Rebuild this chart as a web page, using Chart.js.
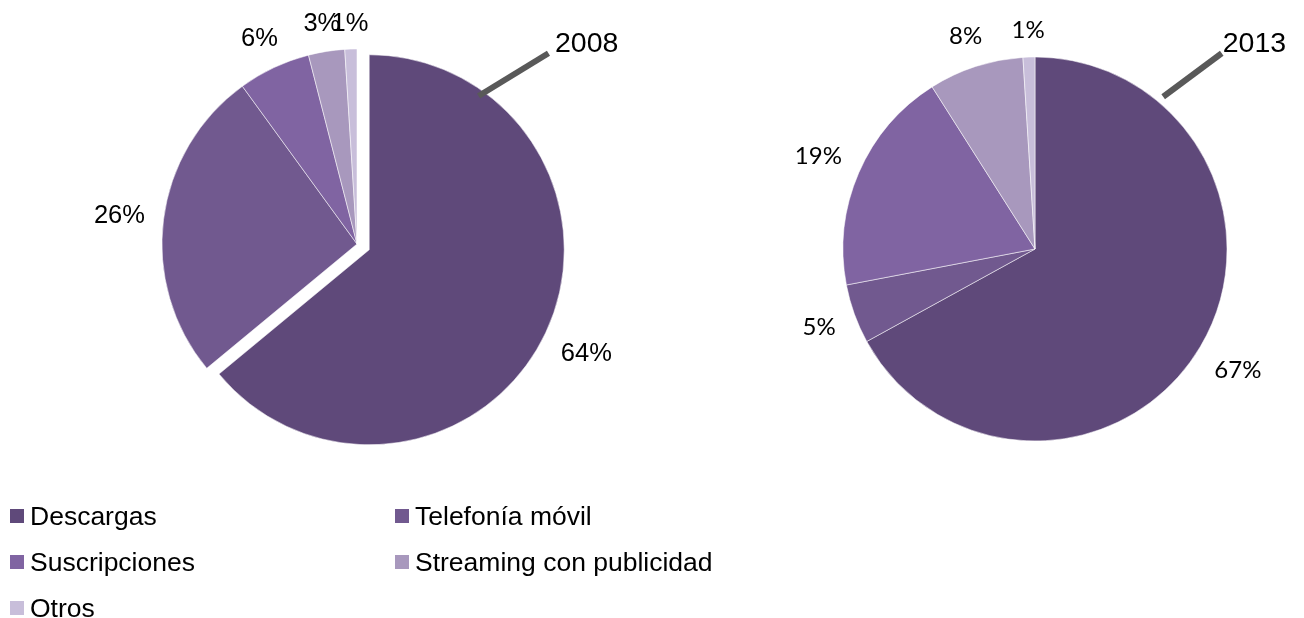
<!DOCTYPE html>
<html><head><meta charset="utf-8">
<script src="https://cdn.jsdelivr.net/npm/chart.js@4.4.1/dist/chart.umd.min.js"></script>
<style>
html,body{margin:0;padding:0;background:#fff;width:1304px;height:618px;overflow:hidden;position:relative;}
#c1{position:absolute;left:0;top:0;}
#c2{position:absolute;left:770px;top:0;}
#legend{position:absolute;left:10px;top:493px;display:grid;grid-template-columns:385px 385px;grid-auto-rows:46px;font-family:"Liberation Sans",Arial,sans-serif;font-size:26.5px;color:#000;}
.item{display:flex;align-items:center;white-space:nowrap;}
.sw{width:14px;height:14px;margin-right:6px;flex:none;}
</style></head>
<body>
<canvas id="c1" width="714" height="488"></canvas>
<canvas id="c2" width="534" height="498"></canvas>
<div id="legend"></div>
<script>
const categories = ['Descargas', 'Telefonía móvil', 'Suscripciones', 'Streaming con publicidad', 'Otros'];
const values2008 = [64, 26, 6, 3, 1];
const values2013 = [67, 5, 19, 8, 1];
const years = ['2008', '2013'];
const colors = ['#5F497A', '#71598F', '#8064A2', '#A898BD', '#C8BEDA'];

const pieDecor = {
  id: 'pieDecor',
  beforeDatasetDraw(chart, args, opts) {
    const ctx = chart.ctx;
    const explode = opts.explode || [];
    args.meta.data.forEach((arc, i) => {
      const d = explode[i] || 0;
      ctx.save();
      if (d) {
        const mid = (arc.startAngle + arc.endAngle) / 2;
        ctx.translate(Math.cos(mid) * d, Math.sin(mid) * d);
      }
      arc.draw(ctx, chart.chartArea);
      ctx.restore();
    });
    return false;
  },
  afterDatasetsDraw(chart, args, opts) {
    const ctx = chart.ctx;
    const meta = chart.getDatasetMeta(0);
    const ds = chart.data.datasets[0];
    const explode = opts.explode || [];
    ctx.save();
    ctx.font = opts.labelFont;
    ctx.fillStyle = '#000';
    ctx.textAlign = 'center';
    ctx.textBaseline = 'alphabetic';
    const capH = opts.labelCap;
    meta.data.forEach((arc, i) => {
      const mid = (arc.startAngle + arc.endAngle) / 2;
      const ex = explode[i] || 0;
      const c = Math.cos(mid), s = Math.sin(mid);
      const cx = arc.x + c * ex, cy = arc.y + s * ex;
      const txt = ds.data[i] + '%';
      const w = ctx.measureText(txt).width;
      const ext = Math.abs(c) * w / 2 + Math.abs(s) * capH / 2;
      const r = arc.outerRadius + opts.pad + ext;
      ctx.fillText(txt, cx + c * r, cy + s * r + capH / 2);
    });
    const co = opts.callout;
    const x0 = meta.data[0].x, y0 = meta.data[0].y;
    const a1 = (co.a1 - 90) * Math.PI / 180, a2 = (co.a2 - 90) * Math.PI / 180;
    const p1 = [x0 + Math.cos(a1) * co.r1, y0 + Math.sin(a1) * co.r1];
    const p2 = [x0 + Math.cos(a2) * co.r2, y0 + Math.sin(a2) * co.r2];
    ctx.strokeStyle = '#595959';
    ctx.lineWidth = 6;
    ctx.lineCap = 'butt';
    ctx.beginPath();
    ctx.moveTo(p1[0], p1[1]);
    ctx.lineTo(p2[0], p2[1]);
    ctx.stroke();
    ctx.font = co.font;
    ctx.textAlign = 'left';
    ctx.fillStyle = '#000';
    ctx.fillText(ds.label, p2[0] + co.dx, p2[1] + co.dy);
    ctx.restore();
  }
};

function makePie(id, values, year, radius, padRight, decor) {
  return new Chart(document.getElementById(id), {
    type: 'pie',
    data: {
      labels: categories,
      datasets: [{
        label: year,
        data: values,
        backgroundColor: colors,
        borderColor: 'rgba(255,255,255,0.7)',
        borderWidth: 0.75,
        radius: radius
      }]
    },
    options: {
      responsive: false,
      animation: false,
      layout: { padding: { left: 0, right: padRight, top: 0, bottom: 0 } },
      plugins: {
        legend: { display: false },
        tooltip: { enabled: false },
        pieDecor: decor
      }
    },
    plugins: [pieDecor]
  });
}

makePie('c1', values2008, years[0], 195, 0, {
  explode: [13.5, 0, 0, 0, 0],
  labelFont: '25.5px "Liberation Sans", Arial, sans-serif',
  labelCap: 18,
  pad: 18,
  callout: { a1: 39.4, r1: 191.5, a2: 45.1, r2: 270.3, dx: 6.5, dy: -1, font: '28.5px "Liberation Sans", Arial, sans-serif' }
});
makePie('c2', values2013, years[1], 192, 4, {
  explode: [],
  labelFont: '24px Lato, "Open Sans", sans-serif',
  labelCap: 17.3,
  pad: 19,
  callout: { a1: 40.1, r1: 199, a2: 43.65, r2: 270.5, dx: 1, dy: -1.6, font: '28.5px "Liberation Sans", Arial, sans-serif' }
});

const leg = document.getElementById('legend');
categories.forEach((name, i) => {
  const it = document.createElement('div');
  it.className = 'item';
  const sw = document.createElement('span');
  sw.className = 'sw';
  sw.style.background = colors[i];
  const tx = document.createElement('span');
  tx.textContent = name;
  it.appendChild(sw);
  it.appendChild(tx);
  leg.appendChild(it);
});
</script>
</body></html>
